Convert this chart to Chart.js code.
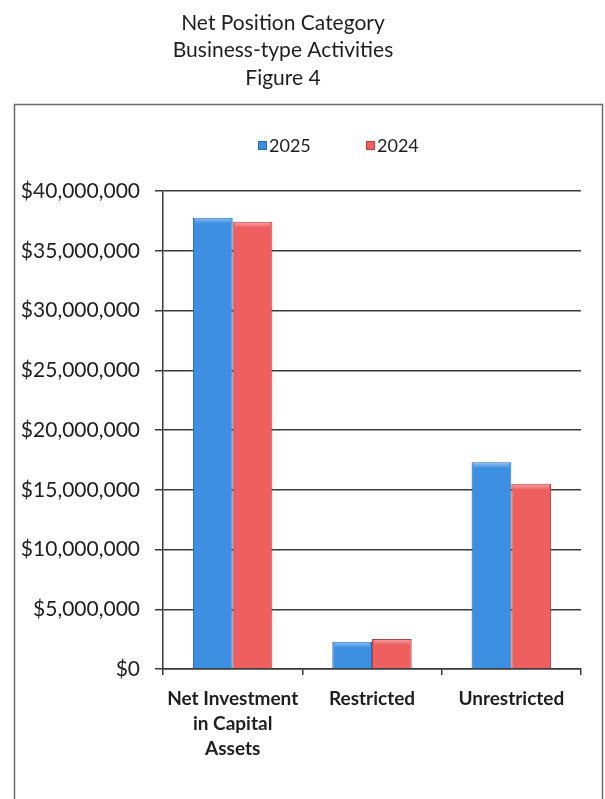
<!DOCTYPE html>
<html>
<head>
<meta charset="utf-8">
<title>Net Position Category</title>
<script src="https://cdn.jsdelivr.net/npm/chart.js@4.4.1/dist/chart.umd.min.js"></script>
<style>
  html, body { margin: 0; padding: 0; background: #fff; }
  #wrap { width: 605px; height: 799px; position: relative; }
</style>
</head>
<body>
<div id="wrap"><canvas id="netPositionChart"></canvas></div>
<script>
// Net position by category, business-type activities
const categories = [['Net Investment', 'in Capital', 'Assets'], 'Restricted', 'Unrestricted'];
const seriesLabels = ['2025', '2024'];
const values2025 = [37770000, 2280000, 17300000];
const values2024 = [37430000, 2510000, 15500000];
const yTicks = { min: 0, max: 40000000, step: 5000000 };

const titleLines = ['Net Position Category', 'Business-type Activities', 'Figure 4'];
const seriesColors = ['#3d8fe2', '#ee5f5f'];
const seriesBorders = ['#2a6aae', '#b84343'];

const FONT = 'Lato, "Open Sans", sans-serif';
const INK = '#1e1e1e';
const GRID = '#3a3a3a';

// Frame, heading above it and the legend row inside it
const decorPlugin = {
    id: 'decor',
    beforeDraw(chart) {
        const c = chart.ctx;
        c.save();
        c.strokeStyle = '#6b6b6b';
        c.lineWidth = 1.5;
        c.strokeRect(14.5, 104.5, 588, 760);
        c.restore();
    },
    afterDraw(chart) {
        const c = chart.ctx;
        c.save();
        c.fillStyle = INK;
        c.textAlign = 'center';
        c.textBaseline = 'middle';
        c.font = '21px ' + FONT;
        titleLines.forEach((t, i) => c.fillText(t, 283, 23 + i * 27.5));

        // legend: swatch + year label
        c.font = '18px ' + FONT;
        c.textAlign = 'left';
        const legendX = [258, 366];
        seriesLabels.forEach((s, i) => {
            const x = legendX[i];
            c.fillStyle = seriesColors[i];
            c.fillRect(x, 141, 9, 9);
            c.strokeStyle = seriesBorders[i];
            c.lineWidth = 1;
            c.strokeRect(x + 0.5, 141.5, 8, 8);
            c.fillStyle = INK;
            c.fillText(s, x + 11, 146);
        });
        c.restore();
    }
};

// Soft bevel highlight on top of each bar
const bevelPlugin = {
    id: 'bevel',
    afterDatasetsDraw(chart) {
        const c = chart.ctx;
        c.save();
        chart.data.datasets.forEach((ds, i) => {
            chart.getDatasetMeta(i).data.forEach(bar => {
                const { x, y, base, width } = bar.getProps(['x', 'y', 'base', 'width'], true);
                const left = x - width / 2;
                const h = Math.min(6, base - y);
                const g = c.createLinearGradient(0, y, 0, y + h);
                g.addColorStop(0, 'rgba(255,255,255,0.45)');
                g.addColorStop(1, 'rgba(255,255,255,0)');
                c.fillStyle = g;
                c.fillRect(left + 2, y + 1, width - 4, h);
            });
        });
        c.restore();
    }
};

const ctx = document.getElementById('netPositionChart').getContext('2d');

new Chart(ctx, {
    type: 'bar',
    data: {
        labels: categories,
        datasets: seriesLabels.map((s, i) => ({
            label: s,
            data: i === 0 ? values2025 : values2024,
            backgroundColor: seriesColors[i],
            borderColor: seriesBorders[i],
            borderWidth: 1,
            categoryPercentage: 0.57,
            barPercentage: 1.0
        }))
    },
    options: {
        responsive: true,
        maintainAspectRatio: false,
        animation: false,
        layout: { padding: { left: 0, right: 24, top: 191, bottom: 0 } },
        scales: {
            y: {
                min: yTicks.min,
                max: yTicks.max,
                afterFit(scale) { scale.width = 163; },
                border: { display: true, color: GRID, width: 1.5 },
                grid: { color: GRID, lineWidth: 1.5, drawTicks: true, tickLength: 8, tickColor: GRID },
                ticks: {
                    stepSize: yTicks.step,
                    padding: 15,
                    color: INK,
                    font: { family: FONT, size: 21 },
                    callback: v => '$' + Number(v).toLocaleString('en-US')
                }
            },
            x: {
                afterFit(scale) { scale.height = 130; },
                border: { display: true, color: GRID, width: 1.5 },
                grid: { offset: true, drawOnChartArea: false, drawTicks: true, tickLength: 6, color: GRID, lineWidth: 1.5 },
                ticks: {
                    padding: 11,
                    color: INK,
                    maxRotation: 0,
                    autoSkip: false,
                    font: { family: FONT, size: 19, weight: 'bold', lineHeight: 1.32 }
                }
            }
        },
        plugins: {
            title: { display: false },
            legend: { display: false },
            tooltip: { enabled: false }
        }
    },
    plugins: [decorPlugin, bevelPlugin]
});
</script>
</body>
</html>
